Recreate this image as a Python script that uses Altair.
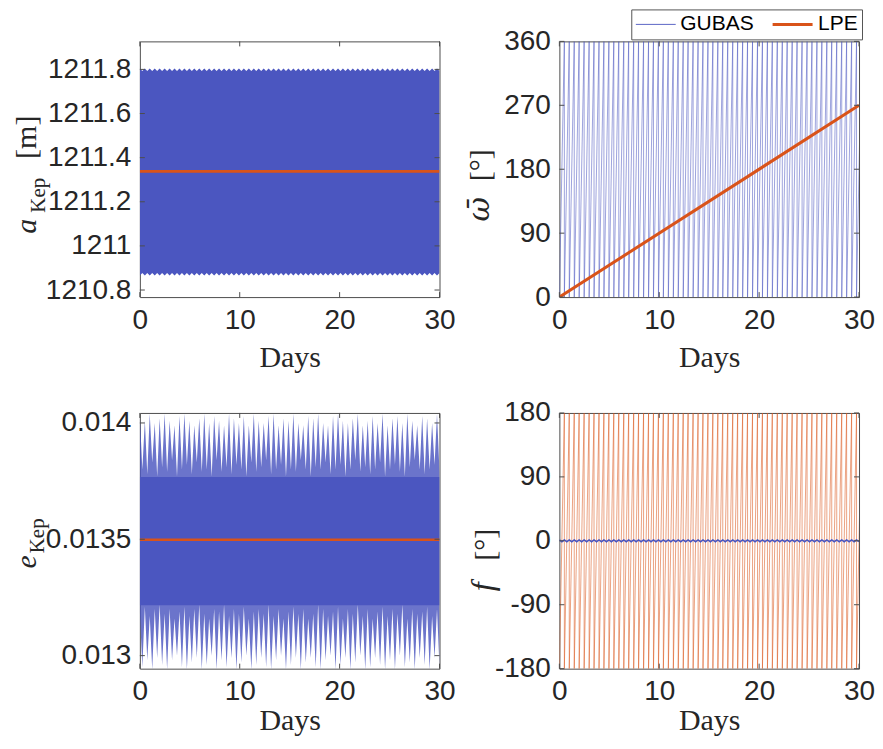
import altair as alt
import pandas as pd

# ---------------- data ----------------
days_ticks = [0, 10, 20, 30]
a_ticks = [1210.8, 1211, 1211.2, 1211.4, 1211.6, 1211.8]
w_ticks = [0, 90, 180, 270, 360]
e_ticks = [0.013, 0.0135, 0.014]
f_ticks = [-180, -90, 0, 90, 180]

a_domain = [1210.768, 1211.927]
w_domain = [0, 360]
e_domain = [0.012944, 0.014043]
f_domain = [-180, 180]

# start of each mutual orbit (days); the GUBAS angles wrap at these epochs
orbit_days = [0.00, 0.50, 0.99, 1.49, 1.98, 2.48, 2.98, 3.47, 3.97, 4.46,
              4.96, 5.45, 5.95, 6.45, 6.94, 7.44, 7.93, 8.43, 8.93, 9.42,
              9.92, 10.41, 10.91, 11.41, 11.90, 12.40, 12.89, 13.39, 13.89, 14.38,
              14.88, 15.37, 15.87, 16.36, 16.86, 17.36, 17.85, 18.35, 18.84, 19.34,
              19.84, 20.33, 20.83, 21.32, 21.82, 22.32, 22.81, 23.31, 23.80, 24.30,
              24.80, 25.29, 25.79, 26.28, 26.78, 27.27, 27.77, 28.27, 28.76, 29.26,
              29.75, 30.25]

# GUBAS semi-major axis band edges (at orbit epoch, at half orbit)
a_upper = [1211.804, 1211.793]
a_lower = [1210.866, 1210.877]
a_lpe = 1211.338

# GUBAS eccentricity: solid core band and per-orbit spike envelope
e_band = [0.013217, 0.013768]
e_peak = [0.01403, 0.01401, 0.01404, 0.01400, 0.01402, 0.01404, 0.01401, 0.01399, 0.01403, 0.01404,
          0.01401, 0.01399, 0.01402, 0.01404, 0.01400, 0.01403, 0.01401, 0.01399, 0.01404, 0.01402,
          0.01400, 0.01403, 0.01399, 0.01404, 0.01401, 0.01400, 0.01403, 0.01404, 0.01399, 0.01402,
          0.01401, 0.01404, 0.01400, 0.01399, 0.01403, 0.01402, 0.01404, 0.01400, 0.01399, 0.01403,
          0.01404, 0.01401, 0.01400, 0.01402, 0.01404, 0.01399, 0.01401, 0.01403, 0.01400, 0.01404,
          0.01399, 0.01402, 0.01403, 0.01400, 0.01404, 0.01401, 0.01399, 0.01403, 0.01402, 0.01400, 0.01404]
e_gap_hi = [0.01380, 0.01378, 0.01383, 0.01377, 0.01381, 0.01379, 0.01384, 0.01377, 0.01380, 0.01382,
            0.01378, 0.01383, 0.01379, 0.01380, 0.01377, 0.01384, 0.01379, 0.01381, 0.01378, 0.01382,
            0.01380, 0.01377, 0.01383, 0.01379, 0.01381, 0.01384, 0.01378, 0.01380, 0.01382, 0.01377,
            0.01380, 0.01379, 0.01384, 0.01380, 0.01377, 0.01381, 0.01380, 0.01383, 0.01378, 0.01380,
            0.01382, 0.01377, 0.01380, 0.01384, 0.01379, 0.01381, 0.01378, 0.01380, 0.01383, 0.01377,
            0.01380, 0.01382, 0.01379, 0.01377, 0.01381, 0.01384, 0.01380, 0.01378, 0.01380, 0.01382, 0.01379]
e_trough = [0.01295, 0.01298, 0.01294, 0.01299, 0.01296, 0.01294, 0.01298, 0.01300, 0.01295, 0.01294,
            0.01297, 0.01299, 0.01294, 0.01296, 0.01300, 0.01294, 0.01298, 0.01295, 0.01299, 0.01294,
            0.01297, 0.01300, 0.01294, 0.01296, 0.01299, 0.01295, 0.01294, 0.01298, 0.01300, 0.01294,
            0.01296, 0.01299, 0.01294, 0.01297, 0.01299, 0.01295, 0.01294, 0.01298, 0.01300, 0.01294,
            0.01296, 0.01299, 0.01294, 0.01297, 0.01300, 0.01294, 0.01295, 0.01299, 0.01296, 0.01294,
            0.01298, 0.01294, 0.01300, 0.01295, 0.01297, 0.01294, 0.01299, 0.01296, 0.01294, 0.01299, 0.01295]
e_gap_lo = [0.01319, 0.01321, 0.01317, 0.01320, 0.01322, 0.01318, 0.01320, 0.01316, 0.01319, 0.01321,
            0.01317, 0.01320, 0.01322, 0.01318, 0.01316, 0.01320, 0.01319, 0.01322, 0.01317, 0.01320,
            0.01318, 0.01321, 0.01316, 0.01319, 0.01320, 0.01318, 0.01322, 0.01317, 0.01320, 0.01316,
            0.01319, 0.01321, 0.01318, 0.01320, 0.01316, 0.01318, 0.01322, 0.01320, 0.01317, 0.01319,
            0.01321, 0.01316, 0.01320, 0.01318, 0.01322, 0.01317, 0.01320, 0.01316, 0.01319, 0.01321,
            0.01317, 0.01320, 0.01318, 0.01322, 0.01316, 0.01320, 0.01318, 0.01319, 0.01321, 0.01317, 0.01320]
e_lpe = 0.013498

w_saw = [0, 360]          # GUBAS longitude of pericentre wraps 0 -> 360
w_lpe_days = [0, 30]
w_lpe = [0, 270]
f_saw = [-180, 180]       # LPE true anomaly wraps -180 -> 180
f_gubas = [1.3, -1.3]     # small wobble of GUBAS true anomaly around 0

series = ["GUBAS", "LPE"]
ylabel_parts = {
    "a": ["a", "Kep", "[m]"],
    "w": ["\u03c9\u0304", "[\u00b0]"],
    "e": ["e", "Kep"],
    "f": ["f", "[\u00b0]"],
}

# ---------------- tables ----------------
env_rows = []
saw_rows = []
for k in range(len(orbit_days) - 1):
    t0 = orbit_days[k]
    tm = (orbit_days[k] + orbit_days[k + 1]) / 2
    env_rows.append(dict(day=t0, a_hi=a_upper[0], a_lo=a_lower[0],
                         e_hi=e_peak[k], e_lo=e_gap_lo[k], f=f_gubas[0]))
    env_rows.append(dict(day=tm, a_hi=a_upper[1], a_lo=a_lower[1],
                         e_hi=e_gap_hi[k], e_lo=e_trough[k], f=f_gubas[1]))
    saw_rows.append(dict(i=2 * k, day=t0, w=w_saw[0], f=f_saw[0], series=series[0]))
    saw_rows.append(dict(i=2 * k + 1, day=orbit_days[k + 1], w=w_saw[1], f=f_saw[1], series=series[0]))
env = pd.DataFrame(env_rows)
saw = pd.DataFrame(saw_rows)

a_lpe_df = pd.DataFrame({"day": w_lpe_days, "a": [a_lpe, a_lpe]})
e_lpe_df = pd.DataFrame({"day": w_lpe_days, "e": [e_lpe, e_lpe]})
e_band_df = pd.DataFrame({"day": w_lpe_days, "e_lo": [e_band[0]] * 2, "e_hi": [e_band[1]] * 2})
w_lpe_df = pd.DataFrame({"day": w_lpe_days, "w": w_lpe, "series": series[1]})

# ---------------- style ----------------
W, H = 300, 256
BLUE = "#4B56C0"
ORANGE = "#D95319"
FRAME = "#4d4d4d"
INK = "#262626"
SANS = "Liberation Sans"
SERIF = "Liberation Serif"
TICK = 5

def xenc(tpad=10, field="day"):
    return alt.X(f"{field}:Q", scale=alt.Scale(domain=[0, 30], nice=False, zero=False),
                 axis=alt.Axis(values=days_ticks, title="Days", titlePadding=tpad,
                               labelExpr="'' + datum.value"))

def yenc(field, domain, ticks):
    return alt.Y(f"{field}:Q", scale=alt.Scale(domain=domain, nice=False, zero=False),
                 axis=alt.Axis(values=ticks, title=None, labelExpr="'' + datum.value"))

def y2enc(field):
    return alt.Y2(f"{field}:Q")

def inner_ticks(yfield, domain, ticks, tpad):
    ydf = pd.DataFrame({yfield: ticks})
    xdf = pd.DataFrame({"day": days_ticks})
    rule = dict(color=FRAME, strokeWidth=1)
    left = alt.Chart(ydf).mark_rule(**rule).encode(
        y=yenc(yfield, domain, ticks), x=alt.value(0), x2=alt.value(TICK))
    right = alt.Chart(ydf).mark_rule(**rule).encode(
        y=yenc(yfield, domain, ticks), x=alt.value(W - TICK), x2=alt.value(W))
    bottom = alt.Chart(xdf).mark_rule(**rule).encode(
        x=xenc(tpad), y=alt.value(H - TICK), y2=alt.value(H))
    top = alt.Chart(xdf).mark_rule(**rule).encode(
        x=xenc(tpad), y=alt.value(0), y2=alt.value(TICK))
    return [left, right, bottom, top]

def title_piece(text, x, y, size=30, italic=False, font=SERIF):
    kw = dict(angle=270, font=font, fontSize=size, align="center",
              baseline="alphabetic", color=INK)
    if italic:
        kw["fontStyle"] = "italic"
    return alt.Chart(pd.DataFrame({"s": [text]})).mark_text(**kw).encode(
        text="s:N", x=alt.value(x), y=alt.value(y))

LEG = alt.Legend(orient="none", legendX=492, legendY=-32, direction="horizontal",
                 title=None, symbolType="stroke", symbolSize=1600, clipHeight=22,
                 labelFont=SANS, labelFontSize=21, labelColor="black", labelOffset=4,
                 columnPadding=17, padding=4, strokeColor="#555", fillColor="white",
                 cornerRadius=0, symbolOpacity=1)
color_enc = alt.Color("series:N", scale=alt.Scale(domain=series, range=[BLUE, ORANGE]), legend=LEG)
width_enc = alt.StrokeWidth("series:N", scale=alt.Scale(domain=series, range=[0.9, 3]), legend=LEG)

TOP_PAD, BOT_PAD = 8, 0

# ---------------- panels ----------------
p = ylabel_parts["a"]
tl = alt.layer(
    alt.Chart(env).mark_area(color=BLUE, clip=True).encode(
        x=xenc(TOP_PAD), y=yenc("a_hi", a_domain, a_ticks), y2=y2enc("a_lo")),
    alt.Chart(a_lpe_df).mark_line(color=ORANGE, strokeWidth=2.8, clip=True).encode(
        x=xenc(TOP_PAD), y=yenc("a", a_domain, a_ticks)),
    *inner_ticks("a", a_domain, a_ticks, TOP_PAD),
    title_piece(p[0], -104, 185, 30, True),
    title_piece(p[1], -95, 154, 21),
    title_piece(p[2], -104, 96, 30),
).properties(width=W, height=H)

p = ylabel_parts["w"]
tr = alt.layer(
    alt.Chart(saw).mark_line(clip=True, opacity=0.6).encode(
        x=xenc(TOP_PAD), y=yenc("w", w_domain, w_ticks), order="i:Q",
        color=color_enc, strokeWidth=width_enc),
    alt.Chart(w_lpe_df).mark_line(clip=True).encode(
        x=xenc(TOP_PAD), y=yenc("w", w_domain, w_ticks),
        color=color_enc, strokeWidth=width_enc),
    *inner_ticks("w", w_domain, w_ticks, TOP_PAD),
    title_piece(p[0], -70, 168, 30, True, "DejaVu Serif"),
    title_piece(p[1], -69, 124, 30),
).properties(width=W, height=H)

p = ylabel_parts["e"]
bl = alt.layer(
    alt.Chart(env).mark_area(color=BLUE, opacity=0.82, clip=True).encode(
        x=xenc(BOT_PAD), y=yenc("e_hi", e_domain, e_ticks), y2=y2enc("e_lo")),
    alt.Chart(e_band_df).mark_area(color=BLUE, clip=True).encode(
        x=xenc(BOT_PAD), y=yenc("e_hi", e_domain, e_ticks), y2=y2enc("e_lo")),
    alt.Chart(e_lpe_df).mark_line(color=ORANGE, strokeWidth=2.5, clip=True).encode(
        x=xenc(BOT_PAD), y=yenc("e", e_domain, e_ticks)),
    *inner_ticks("e", e_domain, e_ticks, BOT_PAD),
    title_piece(p[0], -104, 149, 30, True),
    title_piece(p[1], -96, 123, 21),
).properties(width=W, height=H)

p = ylabel_parts["f"]
br = alt.layer(
    alt.Chart(saw).mark_line(color=ORANGE, strokeWidth=0.9, opacity=0.6, clip=True).encode(
        x=xenc(BOT_PAD), y=yenc("f", f_domain, f_ticks), order="i:Q"),
    alt.Chart(env).mark_line(color=BLUE, strokeWidth=1.6, clip=True).encode(
        x=xenc(BOT_PAD), y=yenc("f", f_domain, f_ticks)),
    *inner_ticks("f", f_domain, f_ticks, BOT_PAD),
    title_piece(p[0], -66, 174, 32, True),
    title_piece(p[1], -64, 132, 30),
).properties(width=W, height=H)

chart = alt.concat(tl, tr, bl, br, columns=2, spacing={"row": 116, "column": 120},
                   bounds="flush").properties(
    padding={"left": 3, "top": 0, "right": -1, "bottom": 0}
).configure_view(
    stroke=FRAME, strokeWidth=1
).configure_axis(
    labelFont=SANS, labelFontSize=28, labelColor=INK, domain=False, ticks=False,
    tickSize=0, grid=False, labelFlush=False, labelOverlap=False, labelBound=False,
    titleFont=SERIF, titleFontSize=30, titleFontWeight="normal", titleColor=INK,
).configure_axisX(
    labelPadding=9
).configure_axisY(
    labelPadding=9
)

chart.save("out.html", embed_options={"renderer": "svg", "actions": False})
